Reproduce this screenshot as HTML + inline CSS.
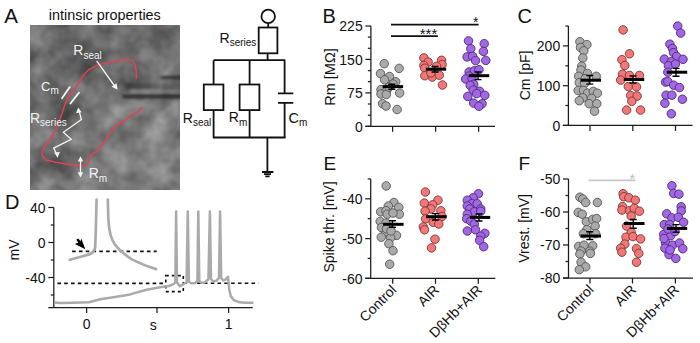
<!DOCTYPE html>
<html><head><meta charset="utf-8"><style>
html,body{margin:0;padding:0;background:#fff;}
svg{display:block;}
text{font-family:"Liberation Sans",sans-serif;}
</style></head><body>
<svg width="700" height="343" viewBox="0 0 700 343" font-family="Liberation Sans, sans-serif" fill="#111">
<defs>
<filter id="noise" x="0" y="0" width="100%" height="100%" color-interpolation-filters="sRGB">
<feTurbulence type="fractalNoise" baseFrequency="0.04" numOctaves="3" seed="11" result="t"/>
<feColorMatrix in="t" type="matrix" values="0.45 0 0 0 0.22  0.45 0 0 0 0.22  0.45 0 0 0 0.22  0 0 0 0 1" />
</filter>
<clipPath id="mclip"><rect x="30" y="25" width="150" height="165"/></clipPath>
<radialGradient id="lp"><stop offset="0" stop-color="#fff" stop-opacity="0.12"/><stop offset="1" stop-color="#fff" stop-opacity="0"/></radialGradient>
<radialGradient id="dp"><stop offset="0" stop-color="#000" stop-opacity="0.12"/><stop offset="1" stop-color="#000" stop-opacity="0"/></radialGradient>
<linearGradient id="pipR"><stop offset="0" stop-color="#262626" stop-opacity="0"/><stop offset="0.3" stop-color="#262626" stop-opacity="0.75"/><stop offset="1" stop-color="#262626" stop-opacity="0.8"/></linearGradient>
<linearGradient id="pipM"><stop offset="0" stop-color="#303030" stop-opacity="0.2"/><stop offset="0.1" stop-color="#303030" stop-opacity="0.6"/><stop offset="0.6" stop-color="#303030" stop-opacity="0.5"/><stop offset="1" stop-color="#303030" stop-opacity="0"/></linearGradient>
<filter id="blur1"><feGaussianBlur stdDeviation="1.2"/></filter>
<radialGradient id="mgA" cx="0.3" cy="0.2" r="0.6"><stop offset="0" stop-color="#000" stop-opacity="0.12"/><stop offset="1" stop-color="#000" stop-opacity="0"/></radialGradient>
<radialGradient id="mgB" cx="0.75" cy="0.8" r="0.5"><stop offset="0" stop-color="#fff" stop-opacity="0.12"/><stop offset="1" stop-color="#fff" stop-opacity="0"/></radialGradient>
</defs>
<rect width="700" height="343" fill="#fff"/>
<text x="4.3" y="23" font-size="20.5">A</text>
<text x="48.8" y="19.6" font-size="14.4">intinsic properties</text>
<g clip-path="url(#mclip)">
<rect x="30" y="25" width="150" height="165" filter="url(#noise)"/>
<rect x="30" y="25" width="150" height="165" fill="url(#mgA)"/>
<rect x="30" y="25" width="150" height="165" fill="url(#mgB)"/>
<circle cx="160" cy="50" r="22" fill="url(#lp)"/>
<circle cx="100" cy="112" r="28" fill="url(#lp)"/>
<circle cx="158" cy="140" r="22" fill="url(#lp)"/>
<circle cx="150" cy="182" r="16" fill="url(#lp)"/>
<circle cx="85" cy="45" r="28" fill="url(#dp)"/>
<circle cx="135" cy="64" r="24" fill="url(#dp)"/>
<g filter="url(#blur1)">
<rect x="156" y="75.5" width="27" height="4" fill="url(#pipR)"/>
<rect x="124.5" y="83.3" width="40" height="5.8" fill="url(#pipM)"/>
<rect x="122.5" y="94.3" width="62" height="4.3" fill="#262626" opacity="0.78"/>
<rect x="130" y="90" width="50" height="2.5" fill="#a8a8a8" opacity="0.35"/>
</g>
</g>
<path d="M136.3 78 L136.2 71 L134.8 64 L132.2 60.2 L127.8 59.6 L119 60.5 L108.5 62.6 L98 64.9 L89.3 69.3 L84 74.5 L79.6 81.5 L75.7 87.1 L71.1 93 L68.5 96.9 L65.2 104.1 L60.3 118 L55.7 129.7 L48.7 141.3 L42.8 149.5 L41.7 155.3 L46.3 160 L55.7 162.3 L67.3 164.2 L81.3 165.8 L87.5 164.5 L89.2 160.5 L90.4 155.8 L93.3 152.9 L97.4 151.7 L99.4 148 L104.5 140.8 L110.6 132.7 L115.7 125.5 L119.8 123.5 L123.9 121.4 L130 116.3 L137.1 112.2 L142.2 107.8" fill="none" stroke="#e4424f" stroke-width="1.45" stroke-linejoin="round" stroke-linecap="round"/>
<g stroke="#f4f4f4" stroke-width="1.3" fill="none" stroke-linecap="round">
<path d="M97 61.4 L115 86.5"/>
<path d="M62 98.2 L69.8 87.1 M70.4 103.5 L79 92.6" stroke-width="1.8"/>
<path d="M79.1 111 L81.4 119.6 L63.4 132.3 L71.2 139.3 L53.7 148.1 L56.8 154.5"/>
<path d="M80.5 159 V175"/>
</g>
<g fill="#f4f4f4">
<path d="M117.6 89.8 L111.6 86.7 L116.5 83.2 Z"/>
<path d="M78.2 107.6 L76 113.2 L81.6 112.3 Z"/>
<path d="M57.6 157.8 L54.2 152.6 L59.8 152.0 Z"/>
<path d="M80.5 156.2 L77.8 161.5 L83.2 161.5 Z"/>
<path d="M80.5 177.6 L77.8 172.3 L83.2 172.3 Z"/>
</g>
<g fill="#f2f2f2" font-size="14">
<text x="73.3" y="55.4">R<tspan font-size="10" dy="3.3">seal</tspan></text>
<text x="41" y="90.7" font-size="13">C<tspan font-size="10" dy="3.6">m</tspan></text>
<text x="29.9" y="123.4">R<tspan font-size="10" dy="3">series</tspan></text>
<text x="88.7" y="178">R<tspan font-size="10" dy="3.5">m</tspan></text>
</g>
<g stroke="#111" stroke-width="1.8" fill="none">
<circle cx="268.2" cy="16.4" r="6.8"/>
<path d="M268.2 23.2 V27.5"/>
<rect x="258.7" y="27.5" width="18.7" height="25.8"/>
<path d="M267.6 53.3 V60.2 M213.6 60.2 H285.3 M213.6 60.2 V84.5 M249.6 60.2 V84.5 M284.6 60.2 V93.4 M278 93.4 H293.3 M278 102.9 H293.3 M284.6 102.9 V137.5"/>
<rect x="203.8" y="84.5" width="19.6" height="25.6"/>
<rect x="239.6" y="84.5" width="19.8" height="25.6"/>
<path d="M213.6 110.1 V137.5 M249.6 110.1 V137.5 M213 137.5 H285.5 M267.4 137.5 V172 M262 172 H273.4 M264 174.2 H271 M265.3 176.3 H269.6" />
</g>
<g fill="#111" font-size="14">
<text x="219.5" y="43.4">R<tspan font-size="10" dy="3">series</tspan></text>
<text x="182.8" y="123">R<tspan font-size="10" dy="3">seal</tspan></text>
<text x="228.8" y="122.4">R<tspan font-size="10" dy="3.2">m</tspan></text>
<text x="288.6" y="123.1" font-size="14.5">C<tspan font-size="10" dy="3.1">m</tspan></text>
</g>
<text x="322.5" y="22.5" font-size="20">B</text>
<g stroke="#1c1c1c" stroke-width="1.25" fill="none"><path d="M370.9 26V126.3M365.4 126.3H495"/><path d="M365.4 126.3H370.9"/><path d="M365.4 92.9H370.9"/><path d="M365.4 59.4H370.9"/><path d="M365.4 26.0H370.9"/><path d="M367.9 115.2H370.9"/><path d="M367.9 104.0H370.9"/><path d="M367.9 81.7H370.9"/><path d="M367.9 70.6H370.9"/><path d="M367.9 48.3H370.9"/><path d="M367.9 37.1H370.9"/><path d="M392.6 126.3V131.8"/><path d="M435.6 126.3V131.8"/><path d="M478.6 126.3V131.8"/></g><text x="362.7" y="131.7" text-anchor="end" font-size="14">0</text><text x="362.7" y="98.3" text-anchor="end" font-size="14">75</text><text x="362.7" y="64.8" text-anchor="end" font-size="14">150</text><text x="362.7" y="31.4" text-anchor="end" font-size="14">225</text>
<text transform="translate(335.3,77) rotate(-90)" text-anchor="middle" font-size="14.5">Rm [MΩ]</text>
<g stroke="#111" stroke-width="1.8"><path d="M391 24.7 H478.6 M391 36.1 H437.9"/></g>
<text x="478.4" y="27.3" text-anchor="end" font-size="14">*</text>
<text x="437.3" y="38.8" text-anchor="end" font-size="15">***</text>
<g fill="#aaaaaa" stroke="#555555" stroke-width="0.9"><circle cx="384.2" cy="63.7" r="4.25"/><circle cx="399.1" cy="68.4" r="4.25"/><circle cx="380.5" cy="73.6" r="4.25"/><circle cx="389.5" cy="76.5" r="4.25"/><circle cx="384.6" cy="79.8" r="4.25"/><circle cx="395.7" cy="81.8" r="4.25"/><circle cx="393.0" cy="84.0" r="4.25"/><circle cx="381.0" cy="89.6" r="4.25"/><circle cx="386.7" cy="90.8" r="4.25"/><circle cx="381.0" cy="94.0" r="4.25"/><circle cx="386.3" cy="94.5" r="4.25"/><circle cx="399.7" cy="93.0" r="4.25"/><circle cx="382.5" cy="103.7" r="4.25"/><circle cx="386.0" cy="106.0" r="4.25"/><circle cx="397.1" cy="109.5" r="4.25"/><circle cx="389.0" cy="87.0" r="4.25"/></g>
<line x1="382.6" y1="86.6" x2="403.1" y2="86.6" stroke="#000" stroke-width="3.0"/><path d="M388.3 84.3H395.3M391.8 84.3V89.2M388.3 89.2H395.3" stroke="#000" stroke-width="1.4" fill="none"/>
<g fill="#f27878" stroke="#7a3434" stroke-width="0.9"><circle cx="423.9" cy="57.9" r="4.25"/><circle cx="428.1" cy="62.1" r="4.25"/><circle cx="441.6" cy="60.3" r="4.25"/><circle cx="442.1" cy="64.5" r="4.25"/><circle cx="423.9" cy="65.4" r="4.25"/><circle cx="424.8" cy="68.2" r="4.25"/><circle cx="436.5" cy="66.3" r="4.25"/><circle cx="424.8" cy="75.7" r="4.25"/><circle cx="432.3" cy="77.1" r="4.25"/><circle cx="439.3" cy="75.2" r="4.25"/><circle cx="430.9" cy="72.9" r="4.25"/><circle cx="442.5" cy="85.0" r="4.25"/></g>
<line x1="425.8" y1="69.2" x2="446.2" y2="69.2" stroke="#000" stroke-width="3.0"/><path d="M431.5 66.5H438.5M435.0 66.5V72.0M431.5 72.0H438.5" stroke="#000" stroke-width="1.4" fill="none"/>
<g fill="#a366e6" stroke="#4a2c70" stroke-width="0.9"><circle cx="468.5" cy="40.9" r="4.25"/><circle cx="484.2" cy="43.7" r="4.25"/><circle cx="470.8" cy="48.7" r="4.25"/><circle cx="483.4" cy="51.4" r="4.25"/><circle cx="467.1" cy="56.9" r="4.25"/><circle cx="472.6" cy="56.3" r="4.25"/><circle cx="475.5" cy="60.6" r="4.25"/><circle cx="485.8" cy="60.4" r="4.25"/><circle cx="469.1" cy="72.0" r="4.25"/><circle cx="474.3" cy="70.8" r="4.25"/><circle cx="479.0" cy="69.7" r="4.25"/><circle cx="469.1" cy="76.1" r="4.25"/><circle cx="465.6" cy="79.0" r="4.25"/><circle cx="472.0" cy="78.4" r="4.25"/><circle cx="473.7" cy="84.2" r="4.25"/><circle cx="470.2" cy="85.4" r="4.25"/><circle cx="473.2" cy="90.1" r="4.25"/><circle cx="479.6" cy="91.2" r="4.25"/><circle cx="476.7" cy="93.6" r="4.25"/><circle cx="484.8" cy="95.3" r="4.25"/><circle cx="467.8" cy="96.4" r="4.25"/><circle cx="473.6" cy="103.1" r="4.25"/><circle cx="482.0" cy="103.8" r="4.25"/><circle cx="478.9" cy="106.3" r="4.25"/></g>
<line x1="468.8" y1="75.7" x2="489.2" y2="75.7" stroke="#000" stroke-width="3.0"/><path d="M474.5 72.0H481.5M478.0 72.0V79.6M474.5 79.6H481.5" stroke="#000" stroke-width="1.4" fill="none"/>
<text x="517.5" y="23" font-size="20">C</text>
<g stroke="#1c1c1c" stroke-width="1.25" fill="none"><path d="M568.4 26V125.4M562.9 125.4H692.5"/><path d="M562.9 125.4H568.4"/><path d="M562.9 85.7H568.4"/><path d="M562.9 45.9H568.4"/><path d="M565.4 105.5H568.4"/><path d="M565.4 65.8H568.4"/><path d="M565.4 26.0H568.4"/><path d="M590 125.4V130.9"/><path d="M632.8 125.4V130.9"/><path d="M675.5 125.4V130.9"/></g><text x="560.1999999999999" y="130.8" text-anchor="end" font-size="14">0</text><text x="560.1999999999999" y="91.1" text-anchor="end" font-size="14">100</text><text x="560.1999999999999" y="51.3" text-anchor="end" font-size="14">200</text>
<text transform="translate(529.5,75.4) rotate(-90)" text-anchor="middle" font-size="14">Cm [pF]</text>
<g fill="#aaaaaa" stroke="#555555" stroke-width="0.9"><circle cx="579.9" cy="41.7" r="4.25"/><circle cx="586.9" cy="44.6" r="4.25"/><circle cx="580.5" cy="47.5" r="4.25"/><circle cx="583.8" cy="50.8" r="4.25"/><circle cx="582.8" cy="58.0" r="4.25"/><circle cx="581.7" cy="66.2" r="4.25"/><circle cx="581.0" cy="70.0" r="4.25"/><circle cx="587.5" cy="73.4" r="4.25"/><circle cx="578.7" cy="76.3" r="4.25"/><circle cx="585.2" cy="78.7" r="4.25"/><circle cx="596.2" cy="76.3" r="4.25"/><circle cx="579.3" cy="82.7" r="4.25"/><circle cx="584.6" cy="83.3" r="4.25"/><circle cx="578.2" cy="90.5" r="4.25"/><circle cx="583.4" cy="90.5" r="4.25"/><circle cx="587.5" cy="93.2" r="4.25"/><circle cx="593.3" cy="91.4" r="4.25"/><circle cx="597.4" cy="93.2" r="4.25"/><circle cx="582.8" cy="97.8" r="4.25"/><circle cx="579.3" cy="100.7" r="4.25"/><circle cx="591.6" cy="98.4" r="4.25"/><circle cx="589.2" cy="103.7" r="4.25"/><circle cx="596.8" cy="103.7" r="4.25"/><circle cx="594.5" cy="111.2" r="4.25"/></g>
<line x1="580.5" y1="80.2" x2="601.0" y2="80.2" stroke="#000" stroke-width="3.0"/><path d="M586.3 75.5H593.3M589.8 75.5V84.1M586.3 84.1H593.3" stroke="#000" stroke-width="1.4" fill="none"/>
<g fill="#f27878" stroke="#7a3434" stroke-width="0.9"><circle cx="623.1" cy="29.9" r="4.25"/><circle cx="629.5" cy="53.8" r="4.25"/><circle cx="621.9" cy="59.7" r="4.25"/><circle cx="624.8" cy="65.5" r="4.25"/><circle cx="622.5" cy="74.2" r="4.25"/><circle cx="639.4" cy="75.4" r="4.25"/><circle cx="620.7" cy="80.1" r="4.25"/><circle cx="629.5" cy="75.4" r="4.25"/><circle cx="628.3" cy="86.6" r="4.25"/><circle cx="636.5" cy="86.9" r="4.25"/><circle cx="630.7" cy="95.5" r="4.25"/><circle cx="637.1" cy="96.1" r="4.25"/><circle cx="631.8" cy="101.3" r="4.25"/><circle cx="626.6" cy="110.1" r="4.25"/><circle cx="640.6" cy="110.1" r="4.25"/></g>
<line x1="623.8" y1="79.5" x2="644.2" y2="79.5" stroke="#000" stroke-width="3.0"/><path d="M629.5 76.0H636.5M633.0 76.0V83.0M629.5 83.0H636.5" stroke="#000" stroke-width="1.4" fill="none"/>
<g fill="#a366e6" stroke="#4a2c70" stroke-width="0.9"><circle cx="677.7" cy="26.1" r="4.25"/><circle cx="680.7" cy="33.1" r="4.25"/><circle cx="669.9" cy="44.2" r="4.25"/><circle cx="672.5" cy="48.6" r="4.25"/><circle cx="673.5" cy="52.6" r="4.25"/><circle cx="664.3" cy="59.1" r="4.25"/><circle cx="676.6" cy="56.4" r="4.25"/><circle cx="683.0" cy="59.3" r="4.25"/><circle cx="671.3" cy="61.7" r="4.25"/><circle cx="668.4" cy="65.7" r="4.25"/><circle cx="675.4" cy="64.0" r="4.25"/><circle cx="667.8" cy="72.2" r="4.25"/><circle cx="665.5" cy="82.1" r="4.25"/><circle cx="667.8" cy="81.5" r="4.25"/><circle cx="673.7" cy="85.2" r="4.25"/><circle cx="679.5" cy="87.6" r="4.25"/><circle cx="666.1" cy="95.2" r="4.25"/><circle cx="671.9" cy="95.2" r="4.25"/><circle cx="682.4" cy="99.2" r="4.25"/><circle cx="664.9" cy="103.3" r="4.25"/><circle cx="671.3" cy="113.8" r="4.25"/></g>
<line x1="666.8" y1="72.2" x2="687.2" y2="72.2" stroke="#000" stroke-width="3.0"/><path d="M672.5 68.4H679.5M676.0 68.4V76.2M672.5 76.2H679.5" stroke="#000" stroke-width="1.4" fill="none"/>
<text x="323.5" y="170" font-size="19">E</text>
<g stroke="#1c1c1c" stroke-width="1.25" fill="none"><path d="M370.7 179V278.3M365.2 278.3H495.4"/><path d="M365.2 278.3H370.7"/><path d="M365.2 238.6H370.7"/><path d="M365.2 198.8H370.7"/><path d="M367.7 258.4H370.7"/><path d="M367.7 218.7H370.7"/><path d="M367.7 178.9H370.7"/><path d="M392.7 278.3V283.8"/><path d="M435.5 278.3V283.8"/><path d="M478.3 278.3V283.8"/></g><text x="362.5" y="283.7" text-anchor="end" font-size="14">-60</text><text x="362.5" y="244.0" text-anchor="end" font-size="14">-50</text><text x="362.5" y="204.2" text-anchor="end" font-size="14">-40</text>
<text transform="translate(334.2,227) rotate(-90)" text-anchor="middle" font-size="14">Spike thr. [mV]</text>
<g fill="#aaaaaa" stroke="#555555" stroke-width="0.9"><circle cx="386.2" cy="185.9" r="4.25"/><circle cx="393.9" cy="202.5" r="4.25"/><circle cx="388.3" cy="206.0" r="4.25"/><circle cx="398.8" cy="207.4" r="4.25"/><circle cx="380.7" cy="211.8" r="4.25"/><circle cx="386.0" cy="210.7" r="4.25"/><circle cx="387.2" cy="214.2" r="4.25"/><circle cx="399.4" cy="214.2" r="4.25"/><circle cx="393.0" cy="213.0" r="4.25"/><circle cx="380.2" cy="221.4" r="4.25"/><circle cx="386.0" cy="223.2" r="4.25"/><circle cx="385.4" cy="231.9" r="4.25"/><circle cx="381.3" cy="237.2" r="4.25"/><circle cx="396.5" cy="235.4" r="4.25"/><circle cx="390.7" cy="237.7" r="4.25"/><circle cx="388.9" cy="243.7" r="4.25"/><circle cx="393.0" cy="250.7" r="4.25"/><circle cx="389.7" cy="264.2" r="4.25"/><circle cx="381.5" cy="227.5" r="4.25"/><circle cx="386.5" cy="228.8" r="4.25"/><circle cx="391.0" cy="231.0" r="4.25"/></g>
<line x1="383.1" y1="224.3" x2="403.6" y2="224.3" stroke="#000" stroke-width="3.0"/><path d="M388.9 220.8H395.9M392.4 220.8V227.2M388.9 227.2H395.9" stroke="#000" stroke-width="1.4" fill="none"/>
<g fill="#f27878" stroke="#7a3434" stroke-width="0.9"><circle cx="425.4" cy="192.0" r="4.25"/><circle cx="437.9" cy="200.2" r="4.25"/><circle cx="424.3" cy="203.1" r="4.25"/><circle cx="432.7" cy="204.8" r="4.25"/><circle cx="430.9" cy="208.9" r="4.25"/><circle cx="425.1" cy="211.2" r="4.25"/><circle cx="440.8" cy="210.7" r="4.25"/><circle cx="425.7" cy="218.8" r="4.25"/><circle cx="442.0" cy="216.5" r="4.25"/><circle cx="433.2" cy="222.3" r="4.25"/><circle cx="438.8" cy="224.0" r="4.25"/><circle cx="423.3" cy="226.9" r="4.25"/><circle cx="424.5" cy="229.8" r="4.25"/><circle cx="435.0" cy="239.2" r="4.25"/><circle cx="431.5" cy="247.9" r="4.25"/></g>
<line x1="426.1" y1="216.7" x2="446.6" y2="216.7" stroke="#000" stroke-width="3.0"/><path d="M431.8 213.6H438.8M435.3 213.6V220.0M431.8 220.0H438.8" stroke="#000" stroke-width="1.4" fill="none"/>
<g fill="#a366e6" stroke="#4a2c70" stroke-width="0.9"><circle cx="478.4" cy="193.7" r="4.25"/><circle cx="473.2" cy="197.8" r="4.25"/><circle cx="467.3" cy="200.2" r="4.25"/><circle cx="472.0" cy="203.7" r="4.25"/><circle cx="477.2" cy="203.7" r="4.25"/><circle cx="467.3" cy="206.0" r="4.25"/><circle cx="480.7" cy="208.9" r="4.25"/><circle cx="469.7" cy="208.9" r="4.25"/><circle cx="474.3" cy="211.8" r="4.25"/><circle cx="467.3" cy="214.2" r="4.25"/><circle cx="480.7" cy="211.2" r="4.25"/><circle cx="466.7" cy="218.7" r="4.25"/><circle cx="470.8" cy="221.1" r="4.25"/><circle cx="474.3" cy="224.0" r="4.25"/><circle cx="475.5" cy="229.8" r="4.25"/><circle cx="467.3" cy="231.0" r="4.25"/><circle cx="484.8" cy="233.3" r="4.25"/><circle cx="480.7" cy="236.2" r="4.25"/><circle cx="479.6" cy="240.3" r="4.25"/><circle cx="483.7" cy="246.7" r="4.25"/></g>
<line x1="469.8" y1="217.4" x2="490.2" y2="217.4" stroke="#000" stroke-width="3.0"/><path d="M475.5 214.0H482.5M479.0 214.0V221.0M475.5 221.0H482.5" stroke="#000" stroke-width="1.4" fill="none"/>
<text x="518.5" y="170" font-size="19">F</text>
<g stroke="#1c1c1c" stroke-width="1.25" fill="none"><path d="M568.5 179V278M563.0 278H693"/><path d="M563.0 278.0H568.5"/><path d="M563.0 245.0H568.5"/><path d="M563.0 212.0H568.5"/><path d="M563.0 179.0H568.5"/><path d="M565.5 261.5H568.5"/><path d="M565.5 228.5H568.5"/><path d="M565.5 195.5H568.5"/><path d="M590 278V283.5"/><path d="M632.5 278V283.5"/><path d="M675.4 278V283.5"/></g><text x="560.3" y="283.4" text-anchor="end" font-size="14">-80</text><text x="560.3" y="250.4" text-anchor="end" font-size="14">-70</text><text x="560.3" y="217.4" text-anchor="end" font-size="14">-60</text><text x="560.3" y="184.4" text-anchor="end" font-size="14">-50</text>
<text transform="translate(528.8,228.4) rotate(-90)" text-anchor="middle" font-size="14">Vrest. [mV]</text>
<path d="M588.5 180.3 H635.5" stroke="#c8c8c8" stroke-width="1.8"/>
<text x="635.3" y="183.6" text-anchor="end" font-size="15" fill="#bdbdbd">*</text>
<g fill="#aaaaaa" stroke="#555555" stroke-width="0.9"><circle cx="579.9" cy="197.2" r="4.25"/><circle cx="582.8" cy="199.0" r="4.25"/><circle cx="585.7" cy="202.5" r="4.25"/><circle cx="597.4" cy="202.5" r="4.25"/><circle cx="578.2" cy="212.4" r="4.25"/><circle cx="582.2" cy="214.2" r="4.25"/><circle cx="586.3" cy="221.7" r="4.25"/><circle cx="592.7" cy="219.4" r="4.25"/><circle cx="596.6" cy="218.6" r="4.25"/><circle cx="595.1" cy="226.1" r="4.25"/><circle cx="586.9" cy="229.6" r="4.25"/><circle cx="583.4" cy="233.7" r="4.25"/><circle cx="595.7" cy="233.7" r="4.25"/><circle cx="578.7" cy="246.4" r="4.25"/><circle cx="584.0" cy="245.2" r="4.25"/><circle cx="592.7" cy="245.8" r="4.25"/><circle cx="581.1" cy="251.1" r="4.25"/><circle cx="589.8" cy="251.1" r="4.25"/><circle cx="579.9" cy="254.0" r="4.25"/><circle cx="590.4" cy="253.4" r="4.25"/><circle cx="581.1" cy="262.2" r="4.25"/><circle cx="585.7" cy="266.8" r="4.25"/><circle cx="579.3" cy="269.7" r="4.25"/></g>
<line x1="580.5" y1="236.0" x2="601.0" y2="236.0" stroke="#000" stroke-width="3.0"/><path d="M586.3 231.8H593.3M589.8 231.8V239.5M586.3 239.5H593.3" stroke="#000" stroke-width="1.4" fill="none"/>
<g fill="#f27878" stroke="#7a3434" stroke-width="0.9"><circle cx="623.1" cy="193.7" r="4.25"/><circle cx="623.7" cy="196.7" r="4.25"/><circle cx="628.9" cy="197.8" r="4.25"/><circle cx="635.3" cy="200.2" r="4.25"/><circle cx="622.5" cy="206.6" r="4.25"/><circle cx="621.9" cy="210.1" r="4.25"/><circle cx="629.5" cy="210.7" r="4.25"/><circle cx="634.2" cy="208.3" r="4.25"/><circle cx="639.4" cy="211.2" r="4.25"/><circle cx="631.2" cy="215.9" r="4.25"/><circle cx="626.6" cy="226.1" r="4.25"/><circle cx="631.2" cy="232.5" r="4.25"/><circle cx="626.0" cy="237.2" r="4.25"/><circle cx="633.0" cy="236.6" r="4.25"/><circle cx="640.6" cy="238.9" r="4.25"/><circle cx="624.8" cy="244.1" r="4.25"/><circle cx="620.7" cy="248.2" r="4.25"/><circle cx="621.9" cy="252.2" r="4.25"/><circle cx="636.5" cy="248.7" r="4.25"/><circle cx="638.8" cy="253.4" r="4.25"/><circle cx="636.5" cy="262.2" r="4.25"/></g>
<line x1="624.0" y1="223.5" x2="644.5" y2="223.5" stroke="#000" stroke-width="3.0"/><path d="M629.7 219.5H636.7M633.2 219.5V228.2M629.7 228.2H636.7" stroke="#000" stroke-width="1.4" fill="none"/>
<g fill="#a366e6" stroke="#4a2c70" stroke-width="0.9"><circle cx="671.9" cy="185.8" r="4.25"/><circle cx="673.7" cy="193.4" r="4.25"/><circle cx="678.9" cy="194.2" r="4.25"/><circle cx="681.2" cy="206.8" r="4.25"/><circle cx="681.2" cy="210.9" r="4.25"/><circle cx="666.7" cy="213.8" r="4.25"/><circle cx="671.9" cy="217.9" r="4.25"/><circle cx="678.3" cy="217.3" r="4.25"/><circle cx="683.6" cy="222.2" r="4.25"/><circle cx="664.3" cy="224.6" r="4.25"/><circle cx="669.6" cy="224.6" r="4.25"/><circle cx="663.7" cy="234.5" r="4.25"/><circle cx="670.7" cy="235.7" r="4.25"/><circle cx="665.5" cy="242.7" r="4.25"/><circle cx="672.5" cy="245.2" r="4.25"/><circle cx="679.5" cy="243.0" r="4.25"/><circle cx="682.8" cy="248.7" r="4.25"/><circle cx="664.9" cy="248.2" r="4.25"/><circle cx="669.0" cy="254.6" r="4.25"/><circle cx="675.8" cy="258.4" r="4.25"/><circle cx="668.0" cy="229.0" r="4.25"/><circle cx="664.0" cy="238.5" r="4.25"/><circle cx="675.0" cy="231.5" r="4.25"/><circle cx="670.0" cy="250.0" r="4.25"/></g>
<line x1="666.8" y1="228.4" x2="687.2" y2="228.4" stroke="#000" stroke-width="3.0"/><path d="M672.5 224.6H679.5M676.0 224.6V232.2M672.5 232.2H679.5" stroke="#000" stroke-width="1.4" fill="none"/>
<text transform="translate(397.2,290.8) rotate(-45)" text-anchor="end" font-size="14">Control</text><text transform="translate(440.0,290.8) rotate(-45)" text-anchor="end" font-size="14">AIR</text><text transform="translate(482.8,290.8) rotate(-45)" text-anchor="end" font-size="14">DβHb+AIR</text>
<text transform="translate(594.5,290.5) rotate(-45)" text-anchor="end" font-size="14">Control</text><text transform="translate(637.0,290.5) rotate(-45)" text-anchor="end" font-size="14">AIR</text><text transform="translate(679.9,290.5) rotate(-45)" text-anchor="end" font-size="14">DβHb+AIR</text>
<text x="5" y="208.8" font-size="20">D</text>
<g stroke="#1c1c1c" stroke-width="1.25" fill="none"><path d="M53.8 207.5V307.5M48.3 307.5H252.7"/><path d="M48.3 207.5H53.8"/><path d="M48.3 242.5H53.8"/><path d="M48.3 277.5H53.8"/><path d="M50.8 225.0H53.8"/><path d="M50.8 260.0H53.8"/><path d="M50.8 295.0H53.8"/><path d="M86.6 307.5V313.0"/><path d="M157 307.5V313.0"/><path d="M228.6 307.5V313.0"/></g><text x="45.599999999999994" y="212.9" text-anchor="end" font-size="14">40</text><text x="45.599999999999994" y="247.9" text-anchor="end" font-size="14">0</text><text x="45.599999999999994" y="282.9" text-anchor="end" font-size="14">-40</text>
<text transform="translate(18.5,250) rotate(-90)" text-anchor="middle" font-size="14">mV</text>
<g font-size="14" text-anchor="middle"><text x="86.6" y="329">0</text><text x="153.3" y="330.3">s</text><text x="228.6" y="329">1</text></g>
<g stroke="#111" stroke-width="1.6" stroke-dasharray="3.6 3.2" fill="none"><path d="M57.4 283.4 H165"/><path d="M183.5 283.2 H258.5"/><path d="M72.1 251.4 H156.7"/><rect x="165.8" y="275.6" width="17.5" height="16" stroke-dasharray="3 3"/></g>
<path d="M54.5 302.4 L61 303 L72 302.7 L89 302.3 L100 299.2 L115 297.1 L130 294.4 L146.6 289.7 L161.4 286.9 L168.8 286 L173.5 284.1 L175.3 282.6 L176.1 211.5 L177 282.4 L179.8 286.2 L183.5 284.2 L186.6 282.2 L187.8 211.5 L188.9 281.8 L191.2 283.2 L195 283 L197.4 281 L198.3 211.5 L199.3 281.2 L201.5 282.8 L204.5 282.6 L208.4 279.2 L209.9 211.5 L211 279 L213.2 281.5 L216.5 280.6 L219 278 L220.1 211.5 L221.2 278 L223.2 280.5 L226 279.3 L228 276.8 L228.6 283 L229.2 289.5 L230.8 296.2 L233.7 300.1 L239.6 302.3 L245.4 302.7 L253.4 302.7" fill="none" stroke="#aaaaaa" stroke-width="2.5" stroke-linejoin="round"/>
<path d="M69.8 259.8 L81 256.8 L89.1 254.4 C92 253.4 94.6 252 95.2 247 L95.8 230 L96.6 199.5 M107.8 199.5 L108.3 218.3 C108.8 230 110 238 114.8 244.4 C119 250 125 255 132.3 259.6 C138 262.5 146 266 156 269.1" fill="none" stroke="#aaaaaa" stroke-width="2.7" stroke-linejoin="round" stroke-linecap="round"/>
<path d="M85.3 249.3 L74.9 243.9 L78.3 242.6 L76.3 239.8 L78.3 238.4 L80.5 241.3 L81.3 238.6 Z" fill="#000"/>
</svg>
</body></html>
